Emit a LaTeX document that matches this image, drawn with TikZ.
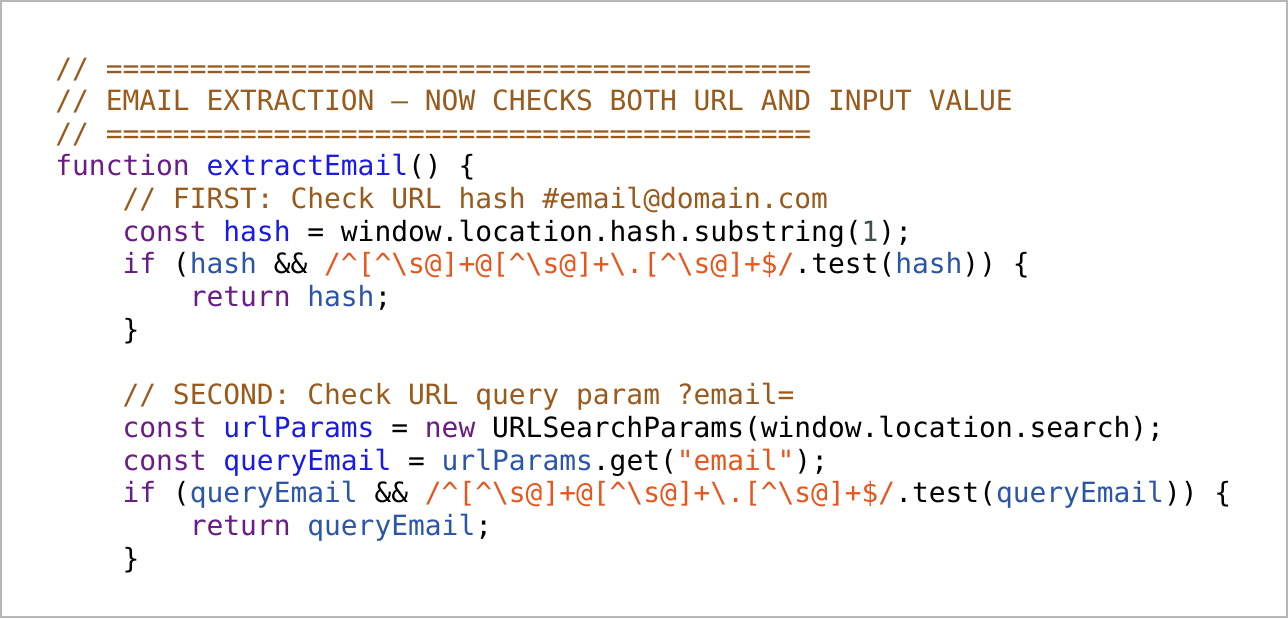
\documentclass[tikz,border=0pt]{standalone}
\usepackage{fontspec}
\setmonofont{DejaVu Sans Mono}
\usepackage{xcolor}
\definecolor{cmtcol}{HTML}{9A5A1C}
\definecolor{kwcol}{HTML}{6A1B86}
\definecolor{fncol}{HTML}{1A1AE6}
\definecolor{varcol}{HTML}{2A55A8}
\definecolor{rxcol}{HTML}{E8561E}
\definecolor{numcol}{HTML}{3F4F4F}
\definecolor{framecol}{HTML}{B8B8B8}
\newcommand{\cm}[1]{\textcolor{cmtcol}{#1}}
\newcommand{\kw}[1]{\textcolor{kwcol}{#1}}
\newcommand{\fn}[1]{\textcolor{fncol}{#1}}
\newcommand{\vr}[1]{\textcolor{varcol}{#1}}
\newcommand{\rx}[1]{\textcolor{rxcol}{#1}}
\newcommand{\nm}[1]{\textcolor{numcol}{#1}}
\newcommand{\regexp}{\rx{/\textasciicircum[\textasciicircum\textbackslash s@]+@[\textasciicircum\textbackslash s@]+\textbackslash.[\textasciicircum\textbackslash s@]+\$/}}
\newcommand{\indentby}[1]{\hspace*{#1\fontcharwd\font`x}}
\begin{document}
\begin{tikzpicture}[x=0.5pt,y=-0.5pt,
    codeline/.style={anchor=base west, inner sep=0pt, font=\ttfamily\fontsize{13.95pt}{16pt}\selectfont}]

    % Frame
    \draw[framecol, line width=0.8pt] (1,1) rectangle (1287,617);

    % Code lines
    \node[codeline] (l1) at (55,78) {\cm{// ==========================================}};
    \node[codeline] (l2) at (55,110) {\cm{// EMAIL EXTRACTION — NOW CHECKS BOTH URL AND INPUT VALUE}};
    \node[codeline] (l3) at (55,143) {\cm{// ==========================================}};
    \node[codeline] (l4) at (55,175) {\kw{function} \fn{extractEmail}() \{};
    \node[codeline] (l5) at (55,208) {\indentby{4}\cm{// FIRST: Check URL hash \#email@domain.com}};
    \node[codeline] (l6) at (55,241) {\indentby{4}\kw{const} \fn{hash} = window.location.hash.substring(\nm{1});};
    \node[codeline] (l7) at (55,273) {\indentby{4}\kw{if} (\vr{hash} \&\& \regexp.test(\vr{hash})) \{};
    \node[codeline] (l8) at (55,306) {\indentby{8}\kw{return} \vr{hash};};
    \node[codeline] (l9) at (55,339) {\indentby{4}\}};
    \node[codeline] (l11) at (55,404) {\indentby{4}\cm{// SECOND: Check URL query param ?email=}};
    \node[codeline] (l12) at (55,437) {\indentby{4}\kw{const} \fn{urlParams} = \kw{new} URLSearchParams(window.location.search);};
    \node[codeline] (l13) at (55,470) {\indentby{4}\kw{const} \fn{queryEmail} = \vr{urlParams}.get(\rx{"email"});};
    \node[codeline] (l14) at (55,502) {\indentby{4}\kw{if} (\vr{queryEmail} \&\& \regexp.test(\vr{queryEmail})) \{};
    \node[codeline] (l15) at (55,535) {\indentby{8}\kw{return} \vr{queryEmail};};
    \node[codeline] (l16) at (55,568) {\indentby{4}\}};

    \useasboundingbox (0,0) rectangle (1288,618);
\end{tikzpicture}
\end{document}
